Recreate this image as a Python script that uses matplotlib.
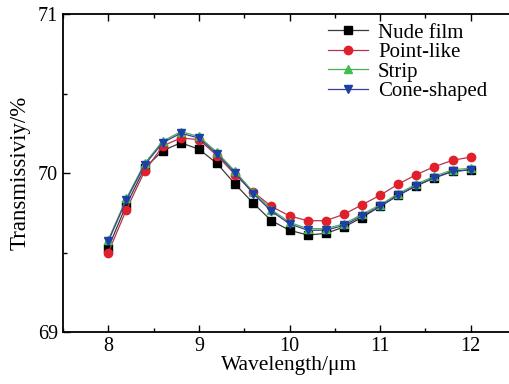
import matplotlib
matplotlib.use("Agg")
import matplotlib.pyplot as plt
from matplotlib.ticker import MultipleLocator

wavelength = [8.0, 8.2, 8.4, 8.6, 8.8, 9.0, 9.2, 9.4, 9.6, 9.8, 10.0,
              10.2, 10.4, 10.6, 10.8, 11.0, 11.2, 11.4, 11.6, 11.8, 12.0]

nude = [69.53, 69.80, 70.03, 70.14, 70.19, 70.15, 70.06, 69.93, 69.81, 69.70, 69.64,
        69.61, 69.62, 69.66, 69.72, 69.79, 69.86, 69.92, 69.97, 70.01, 70.02]
point_like = [69.50, 69.77, 70.01, 70.17, 70.22, 70.21, 70.11, 69.99, 69.88, 69.79, 69.73,
              69.70, 69.70, 69.74, 69.80, 69.86, 69.93, 69.99, 70.04, 70.08, 70.10]
strip = [69.58, 69.84, 70.06, 70.20, 70.26, 70.23, 70.13, 70.01, 69.88, 69.77, 69.69,
         69.65, 69.65, 69.68, 69.74, 69.80, 69.87, 69.93, 69.98, 70.02, 70.03]
cone = [69.57, 69.83, 70.05, 70.19, 70.25, 70.22, 70.12, 70.00, 69.87, 69.76, 69.68,
        69.64, 69.64, 69.67, 69.73, 69.79, 69.86, 69.92, 69.97, 70.01, 70.02]

plt.rcParams['font.family'] = ['Liberation Serif', 'DejaVu Serif']

fig = plt.figure(figsize=(5.10, 3.84), dpi=100)
# right spine falls just outside the picture, as in the original
ax = fig.add_axes([63 / 510, 52 / 384, 453 / 510, 318 / 384])

ax.plot(wavelength, nude, '-', color='#3a3a3a', lw=0.9, marker='s', ms=5.5,
        mfc='black', mec='black', label='Nude film')
ax.plot(wavelength, point_like, '-', color='#b8324a', lw=0.9, marker='o', ms=6,
        mfc='#e0202a', mec='#e0202a', label='Point-like')
ax.plot(wavelength, strip, '-', color='#4caf50', lw=0.9, marker='^', ms=6,
        mfc='#3fbf4f', mec='#3fbf4f', label='Strip')
ax.plot(wavelength, cone, '-', color='#3a3f9a', lw=0.9, marker='v', ms=6,
        mfc='#1f3fa8', mec='#1f3fa8', label='Cone-shaped')

ax.set_xlim(7.5, 12.5)
ax.set_ylim(69, 71)
ax.xaxis.set_major_locator(MultipleLocator(1))
ax.xaxis.set_minor_locator(MultipleLocator(0.5))
ax.yaxis.set_major_locator(MultipleLocator(1))
ax.yaxis.set_minor_locator(MultipleLocator(0.5))
ax.tick_params(which='both', direction='in', top=True, right=True, labelsize=14.5)
ax.tick_params(which='major', length=5, width=1)
ax.tick_params(which='minor', length=3, width=1)
for s in ax.spines.values():
    s.set_linewidth(1.3)
ax.spines['right'].set_visible(False)

ax.set_xlabel('Wavelength/μm', fontsize=15.5, labelpad=0)
ax.set_ylabel('Transmissiviy/%', fontsize=16.5, labelpad=5)

ax.legend(loc='upper left', bbox_to_anchor=(328 / 510, 361 / 384),
          bbox_transform=fig.transFigure, frameon=False, fontsize=15,
          handlelength=1.9, handletextpad=0.5, labelspacing=0.0,
          borderpad=0, borderaxespad=0)

fig.savefig('out.png', dpi=100)
